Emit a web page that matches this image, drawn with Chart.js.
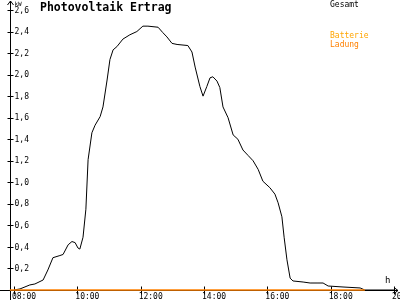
<!DOCTYPE html>
<html>
<head>
<meta charset="utf-8">
<script src="https://cdn.jsdelivr.net/npm/chart.js@4"></script>
<style>
  html, body { margin: 0; padding: 0; background: #fff; overflow: hidden; }
</style>
</head>
<body>
<canvas id="pvChart" width="400" height="300"></canvas>
<script>
// values (hour of day / kW)
const hours = [8.0, 8.19, 8.5, 8.66, 8.92, 9.07, 9.23, 9.45, 9.55, 9.71, 9.83, 9.93, 10.02, 10.08, 10.18,
  10.27, 10.34, 10.46, 10.56, 10.72, 10.81, 10.94, 11.03, 11.13, 11.25, 11.44, 11.66, 11.88, 12.07, 12.23,
  12.55, 12.7, 12.83, 12.99, 13.15, 13.49, 13.62, 13.72, 13.87, 13.97, 14.09, 14.19, 14.28, 14.41, 14.5,
  14.6, 14.76, 14.92, 15.07, 15.23, 15.39, 15.55, 15.71, 15.86, 16.08, 16.24, 16.34, 16.46, 16.53, 16.62,
  16.72, 16.81, 17.13, 17.35, 17.6, 17.76, 17.92, 18.39, 18.93, 19.08, 20.0];
const gesamt = [0, 0.01, 0.047, 0.056, 0.093, 0.186, 0.3, 0.32, 0.33, 0.42, 0.45, 0.44, 0.39, 0.38, 0.49,
  0.75, 1.21, 1.46, 1.53, 1.61, 1.7, 1.95, 2.14, 2.23, 2.26, 2.33, 2.37, 2.4, 2.45, 2.45,
  2.44, 2.39, 2.35, 2.29, 2.28, 2.27, 2.21, 2.07, 1.89, 1.8, 1.89, 1.97, 1.98, 1.94, 1.88,
  1.7, 1.6, 1.44, 1.4, 1.3, 1.25, 1.2, 1.12, 1.01, 0.95, 0.89, 0.81, 0.68, 0.49, 0.28,
  0.11, 0.084, 0.074, 0.065, 0.065, 0.065, 0.037, 0.028, 0.019, 0, 0];
const ladungHours = [7.87, 19.08];
const ladung = [0, 0];

const yTicks = [0.2, 0.4, 0.6, 0.8, 1.0, 1.2, 1.4, 1.6, 1.8, 2.0, 2.2, 2.4, 2.6];
const xTicks = [8, 10, 12, 14, 16, 18, 20];
const xTickLabels = ["08:00", "10:00", "12:00", "14:00", "16:00", "18:00", "20:00"];
const legendNames = ["Gesamt", "Batterie", "Ladung"];
const legendColors = ["#000000", "#ffa500", "#ff8000"];

const mono = '"DejaVu Sans Mono", monospace';

function toPoints(xs, ys) {
  return xs.map(function (x, i) { return { x: x, y: ys[i] }; });
}

// axes with arrows and cross ticks, drawn under the data
const axesPlugin = {
  id: "axes",
  beforeDatasetsDraw(chart) {
    const ctx = chart.ctx;
    const xs = chart.scales.x;
    const ys = chart.scales.y;
    const ax = Math.round(xs.getPixelForValue(xs.min)) + 0.5;
    const ay = Math.round(ys.getPixelForValue(0)) + 0.5;
    ctx.save();
    ctx.strokeStyle = "#000";
    ctx.lineWidth = 1;
    ctx.beginPath();
    ctx.moveTo(ax, 1);
    ctx.lineTo(ax, 300);
    ctx.moveTo(ax - 3, 5);
    ctx.lineTo(ax, 1);
    ctx.lineTo(ax + 3, 5);
    ctx.moveTo(0, ay);
    ctx.lineTo(398, ay);
    ctx.moveTo(394, ay - 3);
    ctx.lineTo(398, ay);
    ctx.lineTo(394, ay + 3);
    yTicks.forEach(function (v) {
      const py = Math.round(ys.getPixelForValue(v)) + 0.5;
      ctx.moveTo(ax - 3, py);
      ctx.lineTo(ax + 3, py);
    });
    xTicks.forEach(function (v) {
      const px = Math.round(xs.getPixelForValue(v)) + 0.5;
      ctx.moveTo(px, ay - 4);
      ctx.lineTo(px, ay + 4);
    });
    ctx.stroke();

    ctx.fillStyle = "#000";
    ctx.font = "8px " + mono;
    ctx.textBaseline = "middle";
    ctx.textAlign = "left";
    yTicks.forEach(function (v) {
      ctx.fillText(v.toFixed(1).replace(".", ","), ax + 4, ys.getPixelForValue(v) + 0.5);
    });
    xTicks.forEach(function (v, i) {
      ctx.fillText(xTickLabels[i], xs.getPixelForValue(v) - 2, ay + 6);
    });
    ctx.font = "6px " + mono;
    ctx.fillText("kW", ax + 4, 4);
    ctx.font = "9px " + mono;
    ctx.fillText("h", 385, 281);
    ctx.restore();
  },
  afterDraw(chart) {
    const ctx = chart.ctx;
    ctx.save();
    ctx.textBaseline = "middle";
    ctx.textAlign = "left";
    ctx.fillStyle = "#000";
    ctx.font = "bold 11.5px " + mono;
    ctx.fillText("Photovoltaik Ertrag", 40, 8);
    ctx.font = "8px " + mono;
    const legendY = [5, 36, 45];
    legendNames.forEach(function (name, i) {
      ctx.fillStyle = legendColors[i];
      ctx.fillText(name, 330, legendY[i]);
    });
    ctx.restore();
  }
};

const data = {
  datasets: [
    {
      label: "Ladung",
      data: toPoints(ladungHours, ladung),
      borderColor: "#ff8000",
      borderWidth: 1.5,
      pointRadius: 0,
      clip: false,
      order: 0,
    },
    {
      label: "Gesamt",
      data: toPoints(hours, gesamt),
      borderColor: "#000000",
      borderWidth: 1,
      pointRadius: 0,
      tension: 0,
      clip: 2,
      order: 1,
    },
  ],
};

const config = {
  type: "line",
  data: data,
  options: {
    responsive: false,
    animation: false,
    layout: { padding: { left: 10, right: 6, top: 10, bottom: 10 } },
    plugins: { legend: { display: false }, tooltip: { enabled: false } },
    scales: {
      x: { type: "linear", min: 7.874, max: 20.0, display: false },
      y: { min: 0, max: 2.6, display: false },
    },
  },
  plugins: [axesPlugin],
};

new Chart(document.getElementById("pvChart"), config);
</script>
</body>
</html>
